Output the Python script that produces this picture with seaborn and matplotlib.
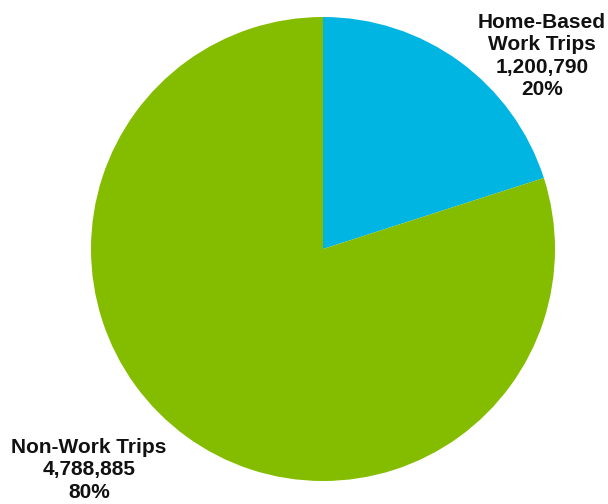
import matplotlib
matplotlib.use("Agg")
import matplotlib.pyplot as plt
import seaborn as sns

categories = ["Home-Based\nWork Trips", "Non-Work Trips"]
trips = [1200790, 4788885]
percents = ["20%", "80%"]
colors = ["#00B5E2", "#84BD00"]

sns.set_theme(style="white")
plt.rcParams['font.family'] = ['Liberation Sans', 'DejaVu Sans']

fig = plt.figure(figsize=(6.08, 5.04), dpi=100)
ax = fig.add_axes([0, 0, 1, 1])

ax.pie(trips, colors=colors, startangle=90, counterclock=False,
       center=(323, 504 - 249), radius=232,
       wedgeprops=dict(linewidth=0), frame=True)
ax.set_xlim(0, 608)
ax.set_ylim(0, 504)
ax.set_aspect('equal')
ax.axis('off')

label_pos = [(542, 504 - 56), (89, 504 - 470)]
for cat, v, p, (x, y) in zip(categories, trips, percents, label_pos):
    ax.text(x, y, f"{cat}\n{v:,}\n{p}", ha='center', va='center',
            fontsize=15, fontweight='bold', color='#111111', linespacing=1.22)

fig.savefig("out.png", dpi=100)
